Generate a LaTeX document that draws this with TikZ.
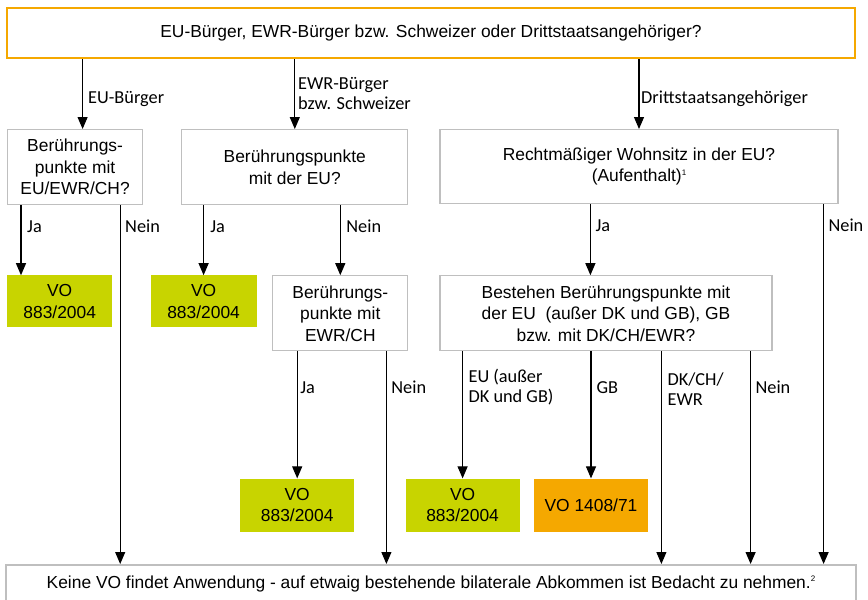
\documentclass[tikz,border=0pt]{standalone}
\usepackage{fontspec}
\setmainfont{Liberation Sans}
\newfontfamily\lblfont{Carlito}
\usepackage{xcolor}
\usetikzlibrary{arrows.meta, calc, positioning}
\definecolor{vogreen}{HTML}{C8D400}
\definecolor{voorange}{HTML}{F5A800}
\definecolor{boxgray}{HTML}{BFBFBF}
\tikzset{
  % Graph arrow style
  garr/.style={
    line width = 1.1pt
  },
  tri/.tip={Triangle[width=10pt,length=12pt]},
}
\newcommand{\fnmark}[1]{\raisebox{0.7ex}{\fontsize{8}{8}\selectfont #1}}

\begin{document}
\begin{tikzpicture}
          [qbox/.style={draw=boxgray, line width=1.2pt, fill=white, align=center,
                        inner sep=2pt, font=\fontsize{17.4}{21.5}\selectfont},
           vobox/.style={align=center, inner sep=2pt, font=\fontsize{17.4}{21.5}\selectfont},
           lbl/.style={anchor=west, inner sep=0pt, align=left,
                       font=\lblfont\fontsize{18.3}{20}\selectfont}
          ]
          \useasboundingbox (0,0) rectangle (868pt,-600pt);

          \node (top) [draw=voorange
                      , line width=2pt
                      , fill=white
                      , minimum width=848pt
                      , minimum height=50pt
                      , anchor=north west
                      , font=\fontsize{17.4}{21.5}\selectfont
                      ] at (6pt,-7pt)
                      {EU-Bürger, EWR-Bürger bzw. Schweizer oder Drittstaatsangehöriger?};

          % first row of questions
          \node (eub) [qbox
                      , minimum width=135pt, minimum height=75pt
                      , below right=70pt and 1pt of top.south west
                      ]
                      {Berührungs-\\punkte mit\\EU/EWR/CH?};
          \node (ewrb) [qbox
                      , minimum width=226pt, minimum height=75pt
                      , below right=0pt and 38pt of eub.north east
                      ]
                      {Berührungspunkte\\mit der EU?};
          \node (wohn) [qbox
                      , minimum width=398pt, minimum height=74pt
                      , below right=0pt and 31pt of ewrb.north east
                      ]
                      {Rechtmäßiger Wohnsitz in der EU?\\(Aufenthalt)\fnmark{1}};

          % second row
          \node (vo1) [vobox, fill=vogreen
                      , minimum width=105pt, minimum height=52pt
                      , below right=70pt and 0pt of eub.south west
                      ]
                      {VO\\883/2004};
          \node (vo2) [vobox, fill=vogreen
                      , minimum width=106pt, minimum height=52pt
                      , right=38pt of vo1
                      ]
                      {VO\\883/2004};
          \node (ewrch) [qbox
                      , minimum width=135pt, minimum height=75pt
                      , below left=70pt and 0pt of ewrb.south east
                      ]
                      {Berührungs-\\punkte mit\\EWR/CH};
          \node (best) [qbox
                      , minimum width=332pt, minimum height=75pt
                      , below right=71pt and 0pt of wohn.south west
                      ]
                      {Bestehen Berührungspunkte mit\\der EU\ \ (außer DK und GB), GB\\bzw. mit DK/CH/EWR?};

          % third row
          \node (vo4) [vobox, fill=vogreen
                      , minimum width=114pt, minimum height=53pt
                      , below right=127pt and -34pt of best.south west
                      ]
                      {VO\\883/2004};
          \node (vo3) [vobox, fill=vogreen
                      , minimum width=114pt, minimum height=53pt
                      , left=51pt of vo4
                      ]
                      {VO\\883/2004};
          \node (vo5) [vobox, fill=voorange
                      , minimum width=114pt, minimum height=53pt
                      , right=14pt of vo4
                      ]
                      {VO 1408/71};

          \node (bottom) [draw=boxgray
                      , line width=2pt
                      , fill=white
                      , minimum width=850pt
                      , minimum height=37pt
                      , below=505pt of top
                      , font=\fontsize{17.4}{21.5}\selectfont
                      ]
                      {Keine VO findet Anwendung - auf etwaig bestehende bilaterale Abkommen ist Bedacht zu nehmen.\fnmark{2}};

          % labels
          \node (leub) [lbl] at ([shift={(82pt,-40pt)}]top.south west) {EU-Bürger};
          \node (lewr) [lbl] at ([shift={(292pt,-35pt)}]top.south west) {EWR-Bürger\\bzw. Schweizer};
          \node (ldritt) [lbl] at ([shift={(635pt,-40pt)}]top.south west) {Drittstaatsangehöriger};

          \node (lja1) [lbl] at ([shift={(20pt,-21pt)}]eub.south west) {Ja};
          \node (lnein1) [lbl] at ([shift={(118pt,-21pt)}]eub.south west) {Nein};
          \node (lja2) [lbl] at ([shift={(29pt,-21pt)}]ewrb.south west) {Ja};
          \node (lnein2) [lbl] at ([shift={(165pt,-21pt)}]ewrb.south west) {Nein};
          \node (lja3) [lbl] at ([shift={(156pt,-21pt)}]wohn.south west) {Ja};
          \node (lnein3) [lbl] at ([shift={(389pt,-21pt)}]wohn.south west) {Nein};

          \node (lja4) [lbl] at ([shift={(28pt,-36pt)}]ewrch.south west) {Ja};
          \node (lnein4) [lbl] at ([shift={(119pt,-36pt)}]ewrch.south west) {Nein};
          \node (leu) [lbl] at ([shift={(29pt,-36pt)}]best.south west) {EU (außer\\DK und GB)};
          \node (lgb) [lbl] at ([shift={(157pt,-36pt)}]best.south west) {GB};
          \node (ldk) [lbl] at ([shift={(228pt,-38pt)}]best.south west) {DK/CH/\\EWR};
          \node (lnein5) [lbl] at ([shift={(316pt,-36pt)}]best.south west) {Nein};

          % from the top question
          \draw[-tri,garr] ([xshift=7.5pt]eub.north |- top.south) -- ([xshift=7.5pt]eub.north);
          \draw[-tri,garr] (ewrb.north |- top.south) -- (ewrb.north);
          \draw[-tri,garr] (wohn.north |- top.south) -- (wohn.north);

          \draw[-tri,garr] ([xshift=14pt]eub.south west) -- ([xshift=14pt]eub.south west |- vo1.north);
          \draw[-tri,garr] ([xshift=-23pt]eub.south east) -- ([xshift=-23pt]eub.south east |- bottom.north);

          \draw[-tri,garr] (vo2.north |- ewrb.south) -- (vo2.north);
          \draw[-tri,garr] (ewrch.north |- ewrb.south) -- (ewrch.north);

          \draw[-tri,garr] (vo3.north |- ewrch.south) -- (vo3.north);
          \draw[-tri,garr] ([xshift=-22pt]ewrch.south east) -- ([xshift=-22pt]ewrch.south east |- bottom.north);

          \draw[-tri,garr] ([xshift=151pt]wohn.south west) -- ([xshift=151pt]wohn.south west |- best.north);
          \draw[-tri,garr] ([xshift=-15pt]wohn.south east) -- ([xshift=-15pt]wohn.south east |- bottom.north);

          \draw[-tri,garr] (vo4.north |- best.south) -- (vo4.north);
          \draw[-tri,garr] (vo5.north |- best.south) -- (vo5.north);
          \draw[-tri,garr] ([xshift=222pt]best.south west) -- ([xshift=222pt]best.south west |- bottom.north);
          \draw[-tri,garr] ([xshift=-22pt]best.south east) -- ([xshift=-22pt]best.south east |- bottom.north);
      \end{tikzpicture}
\end{document}
